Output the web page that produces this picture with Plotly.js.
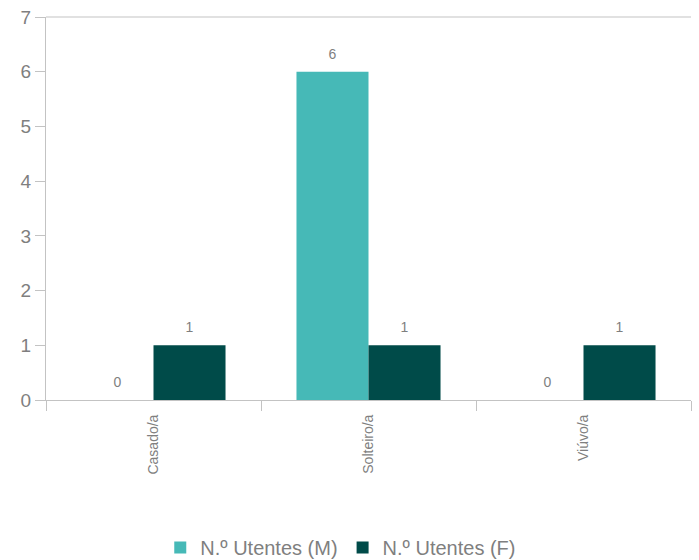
<!DOCTYPE html>
<html>
<head>
<meta charset="utf-8">
<script src="https://cdn.plot.ly/plotly-3.0.1.min.js"></script>
<style>html,body{margin:0;padding:0;background:#fff;}#chart{width:699px;height:560px;}</style>
</head>
<body>
<div id="chart"></div>
<script>
const categories = ["Casado/a", "Solteiro/a", "Viúvo/a"];
const seriesNames = ["N.º Utentes (M)", "N.º Utentes (F)"];
const valuesM = [0, 6, 0];
const valuesF = [1, 1, 1];
const yTicks = [0, 1, 2, 3, 4, 5, 6, 7];

const gray = "#7f7f7f";
const axisCol = "#c3c3c3";
const font = "Liberation Sans, Arial, sans-serif";

const mk = (name, vals, color) => ({
  type: "bar", name: name, x: categories, y: vals,
  marker: {color: color},
  text: vals.map(v => "<span style='font-size:14px'>" + String(v) + "</span><br> "),
  textposition: "outside",
  textfont: {size: 7, color: gray, family: font},
  cliponaxis: false, hoverinfo: "none"
});

const data = [mk(seriesNames[0], valuesM, "#46b9b7"), mk(seriesNames[1], valuesF, "#004b49")];

const layout = {
  width: 699, height: 560,
  margin: {l: 46, r: 8, t: 17, b: 160, autoexpand: false},
  paper_bgcolor: "#fff", plot_bgcolor: "#fff",
  font: {family: font, color: gray},
  barmode: "group", bargap: 0.33, bargroupgap: 0,
  showlegend: true,
  legend: {orientation: "h", x: 0.457, xanchor: "center", y: -0.385, yanchor: "middle",
           font: {size: 20, color: gray, family: font}, itemwidth: 30, tracegroupgap: 0},
  xaxis: {
    type: "category", tickson: "boundaries", ticks: "outside", ticklen: 10, tickcolor: axisCol, tickwidth: 1,
    showline: true, linecolor: axisCol, linewidth: 1, showgrid: false, zeroline: false,
    tickangle: -90, tickfont: {size: 14, color: gray, family: font}, ticklabelstandoff: 8
  },
  yaxis: {
    range: [0, 7], tickvals: yTicks, ticktext: yTicks.map(String),
    ticks: "outside", ticklen: 10, tickcolor: axisCol, tickwidth: 1,
    showline: true, linecolor: axisCol, linewidth: 1, showgrid: false, zeroline: false,
    tickfont: {size: 19, color: gray, family: font}
  },
  shapes: [{type: "line", xref: "paper", yref: "paper", x0: 0, x1: 1, y0: 1, y1: 1,
            line: {color: axisCol, width: 1}}]
};

Plotly.newPlot("chart", data, layout, {displayModeBar: false, staticPlot: true});
</script>
</body>
</html>
